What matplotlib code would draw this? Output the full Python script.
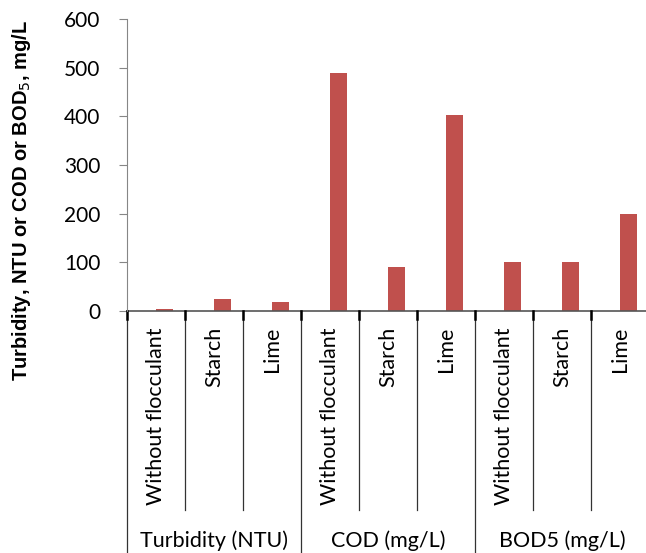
import matplotlib.pyplot as plt
from matplotlib.transforms import blended_transform_factory

# data
groups = ['Turbidity (NTU)', 'COD (mg/L)', 'BOD5 (mg/L)']
treatments = ['Without flocculant', 'Starch', 'Lime']
turbidity = [4, 24, 18]
cod = [490, 90, 402]
bod5 = [100, 100, 200]

values = turbidity + cod + bod5
labels = treatments * len(groups)

plt.rcParams['font.family'] = ['Lato', 'DejaVu Sans']

fig = plt.figure(figsize=(6.46, 5.53), dpi=100)
ax = fig.add_axes([127 / 646, 242 / 553, 522 / 646, 292 / 553])

x = list(range(len(values)))
ax.bar(x, values, width=0.3, align='edge', color='#C0504D')

ax.set_xlim(-0.5, len(values) - 0.5)
ax.set_ylim(0, 600)
ax.set_yticks(range(0, 601, 100))
ax.tick_params(axis='y', labelsize=15, length=6, color='#868686', direction='out', pad=13)
ax.set_xticks([])

for s in ['top', 'right', 'bottom']:
    ax.spines[s].set_visible(False)
ax.spines['left'].set_color('#868686')
ax.axhline(0, color='#555555', lw=1.2, clip_on=False)

tr = blended_transform_factory(ax.transData, ax.transAxes)
# category boundary lines
for i in range(len(values) + 1):
    b = i - 0.5
    if i % 3 == 0:
        ax.plot([b, b], [0, -0.83], color='#333333', lw=0.9, transform=tr, clip_on=False)
    else:
        ax.plot([b, b], [0, -0.6815], color='#333333', lw=0.9, transform=tr, clip_on=False)
    ax.plot([b, b], [0, -0.028], color='black', lw=1.8, transform=tr, clip_on=False)

# treatment labels
for xi, lab in zip(x, labels):
    ax.text(xi, -0.055, lab, rotation=90, ha='center', va='top', fontsize=15.5,
            transform=tr)

# group labels
for gi, g in enumerate(groups):
    ax.text(gi * 3 + 1, -0.788, g, ha='center', va='center', fontsize=15.5,
            transform=tr)

fig.text(22 / 646, 1 - 200 / 553, 'Turbidity, NTU or COD or BOD$_5$, mg/L',
         rotation=90, ha='center', va='center', fontsize=14.5, fontweight='bold',
         family=['Liberation Sans', 'DejaVu Sans'])

fig.savefig('out.png', dpi=100)
